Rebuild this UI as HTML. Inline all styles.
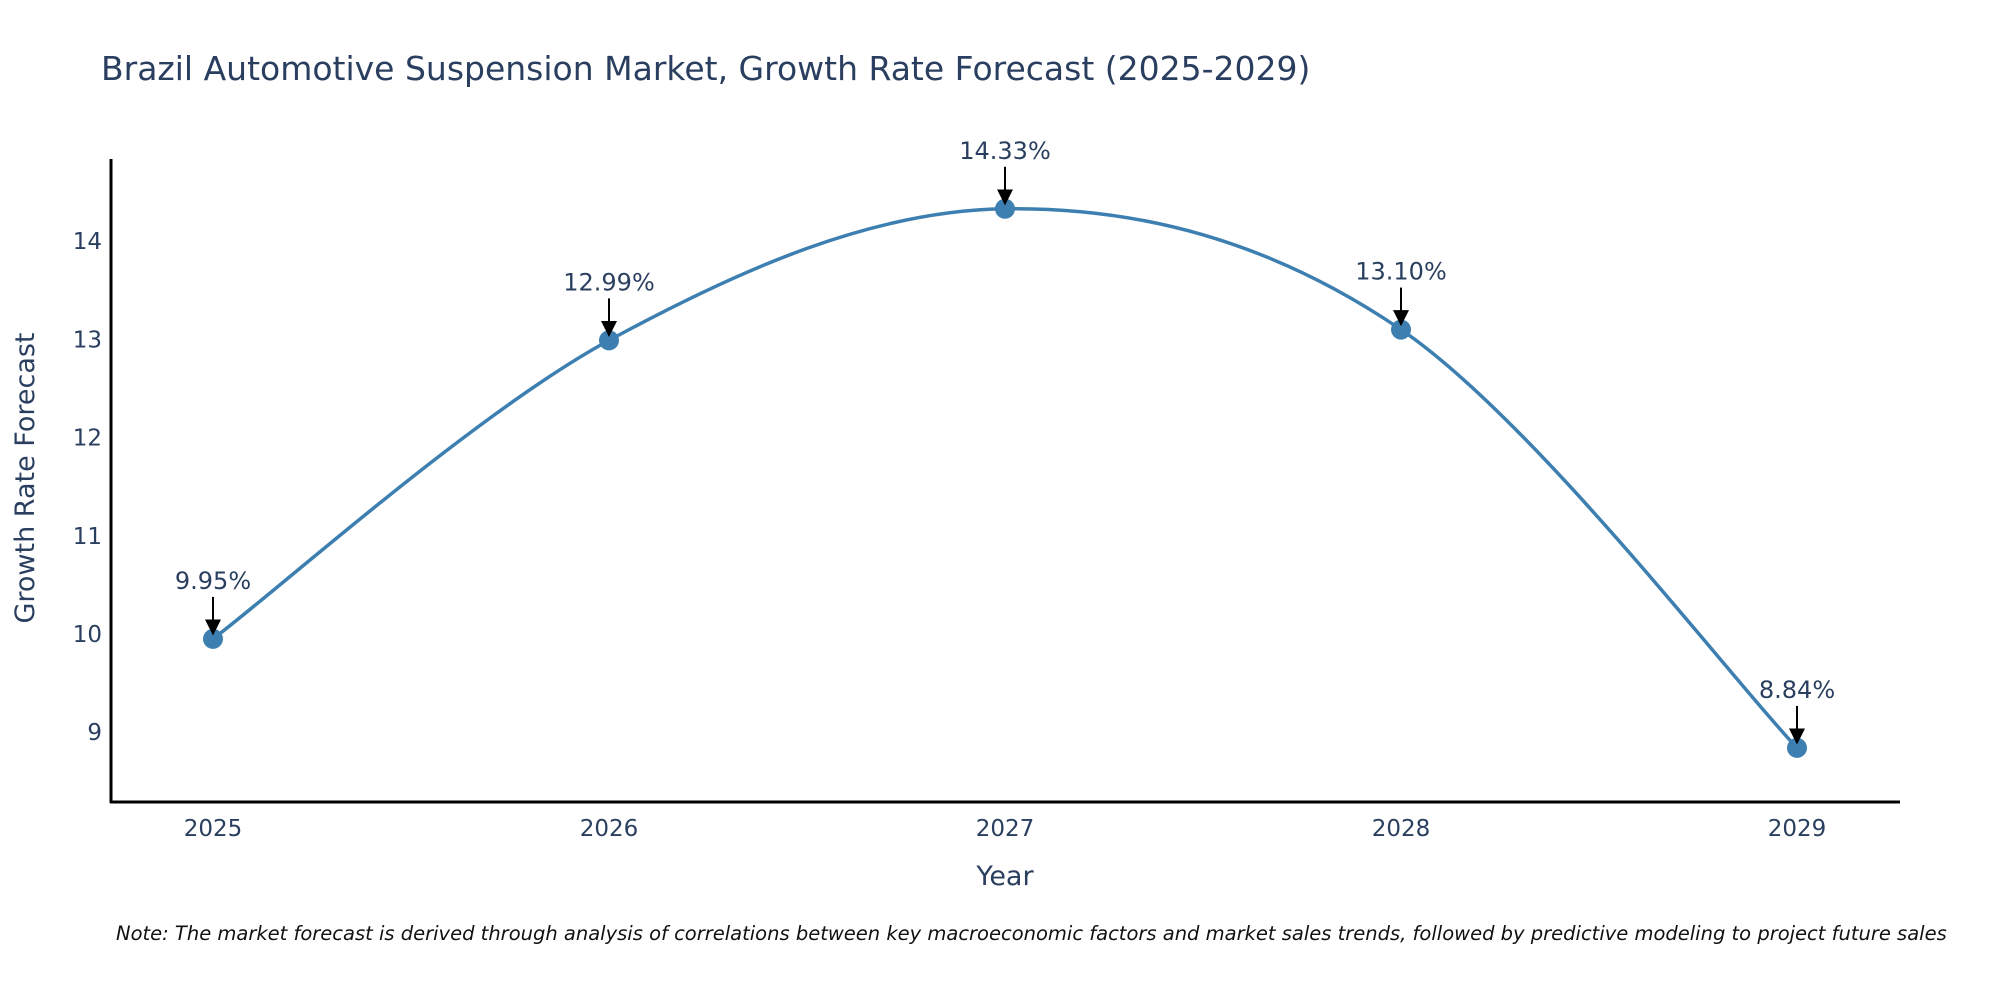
<!DOCTYPE html>
<html><head><meta charset="utf-8"><style>
body{margin:0;background:#fff;}
svg text{font-family:"DejaVu Sans","Liberation Sans",sans-serif;fill:#2a3f5f;}
</style></head><body>
<svg id="chart" width="2000" height="1000" viewBox="0 0 2000 1000" xmlns="http://www.w3.org/2000/svg">
<defs>
<marker id="ah2" viewBox="0 0 10 10" refX="5" refY="9" markerWidth="16" markerHeight="16" orient="0" markerUnits="userSpaceOnUse"><path d="M0,0 L10,0 L5,10 z" fill="#000"/></marker></defs>
<text x="101" y="80" font-size="33">Brazil Automotive Suspension Market, Growth Rate Forecast (2025-2029)</text>
<g id="yticks"></g><g id="xticks"></g>
<line x1="111" y1="159" x2="111" y2="803" stroke="#000" stroke-width="3"/>
<line x1="110" y1="802" x2="1900" y2="802" stroke="#000" stroke-width="3"/>
<text transform="translate(34,478) rotate(-90)" text-anchor="middle" font-size="27">Growth Rate Forecast</text>
<text x="1005" y="885" text-anchor="middle" font-size="27">Year</text>
<path id="line" fill="none" stroke="#3d7fb0" stroke-width="3.5"/>
<g id="pts"></g>
<text x="116" y="940" font-size="19.5" font-style="italic" style="fill:#111">Note: The market forecast is derived through analysis of correlations between key macroeconomic factors and market sales trends, followed by predictive modeling to project future sales</text>
</svg>
<script>
const years=[2025,2026,2027,2028,2029];
const values=[9.95,12.99,14.33,13.10,8.84];
const labels=["9.95%","12.99%","14.33%","13.10%","8.84%"];
const yTicks=[9,10,11,12,13,14];
const NS="http://www.w3.org/2000/svg";
const xS=v=>213+(v-2025)*396;
const yS=v=>634-(v-10)*98.2;
const yt=document.getElementById('yticks'),xt=document.getElementById('xticks'),pg=document.getElementById('pts');
yTicks.forEach(t=>{const e=document.createElementNS(NS,'text');


e.setAttribute('x',102);e.setAttribute('y',yS(t)+8);e.setAttribute('text-anchor','end');e.setAttribute('font-size','23');e.textContent=t;yt.appendChild(e);});
years.forEach(t=>{const e=document.createElementNS(NS,'text');


e.setAttribute('x',xS(t));e.setAttribute('y',836);e.setAttribute('text-anchor','middle');e.setAttribute('font-size','23');e.textContent=t;xt.appendChild(e);});
const P=years.map((y,i)=>[xS(y),yS(values[i])]);
let d='M'+P[0][0]+','+P[0][1];const s=1/6;
for(let i=0;i<P.length-1;i++){const p0=P[Math.max(i-1,0)],p1=P[i],p2=P[i+1],p3=P[Math.min(i+2,P.length-1)];
d+=` C${p1[0]+(p2[0]-p0[0])*s},${p1[1]+(p2[1]-p0[1])*s} ${p2[0]-(p3[0]-p1[0])*s},${p2[1]-(p3[1]-p1[1])*s} ${p2[0]},${p2[1]}`;}
document.getElementById('line').setAttribute('d',d);
P.forEach((p,i)=>{const c=document.createElementNS(NS,'circle');


c.setAttribute('cx',p[0]);c.setAttribute('cy',p[1]);c.setAttribute('r',10);c.setAttribute('fill','#3d7fb0');pg.appendChild(c);
const a=document.createElementNS(NS,'line');


a.setAttribute('x1',p[0]);a.setAttribute('y1',p[1]-42);a.setAttribute('x2',p[0]);a.setAttribute('y2',p[1]-5);a.setAttribute('stroke','#000');a.setAttribute('stroke-width','2');a.setAttribute('marker-end','url(#ah2)');pg.appendChild(a);
const t=document.createElementNS(NS,'text');


t.setAttribute('x',p[0]);t.setAttribute('y',p[1]-50);t.setAttribute('text-anchor','middle');t.setAttribute('font-size','24');t.textContent=labels[i];pg.appendChild(t);});
</script>
</body></html>
